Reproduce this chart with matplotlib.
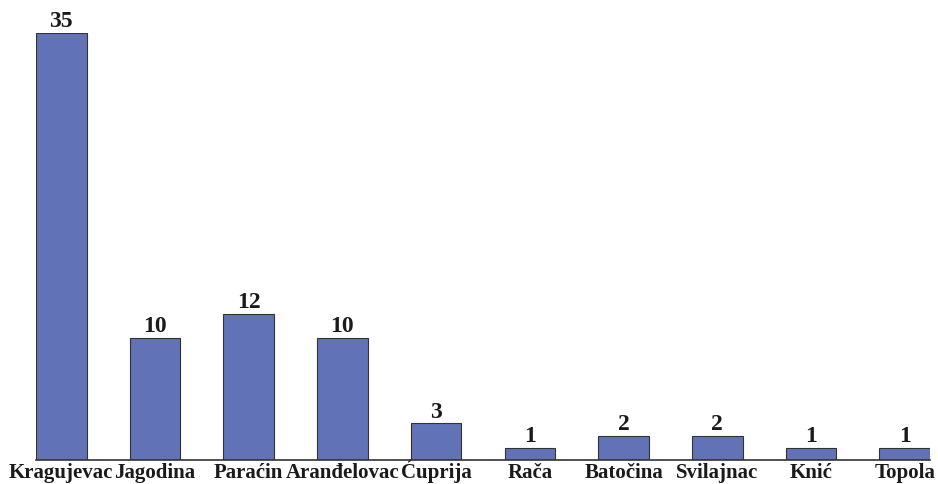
import matplotlib
matplotlib.use("Agg")
import matplotlib.pyplot as plt
import numpy as np

# Municipalities and counts
towns = ["Kragujevac", "Jagodina", "Paraćin", "Aranđelovac", "Ćuprija",
         "Rača", "Batočina", "Svilajnac", "Knić", "Topola"]
counts = [35, 10, 12, 10, 3, 1, 2, 2, 1, 1]

plt.rcParams["font.family"] = ["Liberation Serif", "DejaVu Serif"]

fig = plt.figure(figsize=(9.38, 4.85), dpi=100)
w = 0.54
ax = fig.add_axes([36 / 938, 24 / 485, (930 - 36) / 938, (461 - 34) / 485])

x = np.arange(len(towns))
bars = ax.bar(x, counts, width=w, color="#6272b6", edgecolor="#333333", linewidth=0.8)

for b, v in zip(bars, counts):
    ax.text(b.get_x() + b.get_width() / 2, v + 0.15, str(v), ha="center", va="bottom",
            fontsize=17, fontweight="bold", color="#1a1a1a")

ax.set_xlim(-w / 2, len(towns) - 1 + w / 2)
ax.set_ylim(0, 35)
ax.set_xticks(x)
ax.set_xticklabels(towns, fontsize=15, fontweight="bold", color="#1a1a1a")
ax.tick_params(axis="x", length=0, pad=12)
for lbl in ax.get_xticklabels():
    lbl.set_verticalalignment("baseline")
ax.set_yticks([])
for s in ["top", "right", "left"]:
    ax.spines[s].set_visible(False)
ax.spines["bottom"].set_color("#333333")
ax.spines["bottom"].set_linewidth(1.2)

fig.savefig("out.png", dpi=100)
